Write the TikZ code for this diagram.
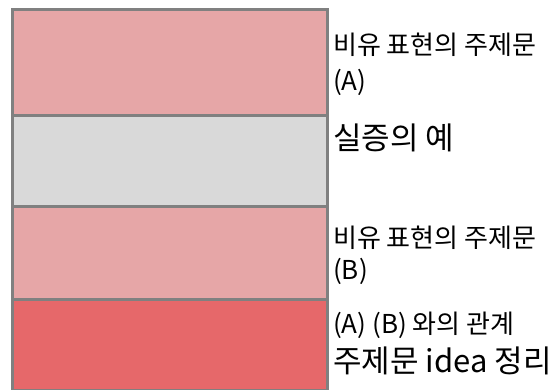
\documentclass[tikz,border=0pt]{standalone}
\usepackage{fontspec}
\setmainfont{Noto Sans CJK KR}
\definecolor{pinkfill}{HTML}{E6A6A7}
\definecolor{grayfill}{HTML}{D9D9D9}
\definecolor{redfill}{HTML}{E6686A}
\definecolor{edge}{HTML}{808080}
\tikzset{
  band/.style={draw=edge, line width=3pt},
  small/.style={anchor=west, inner sep=0pt, font=\fontsize{26}{30}\selectfont},
  big/.style={anchor=west, inner sep=0pt, font=\fontsize{31}{36}\selectfont},
}
\begin{document}
\begin{tikzpicture}[x=1pt,y=-1pt]
\useasboundingbox (0,0) rectangle (559,390);
\fill[pinkfill] (12.5,9.5) rectangle (327.5,115.5);
\fill[grayfill] (12.5,115.5) rectangle (327.5,206.5);
\fill[pinkfill] (12.5,206.5) rectangle (327.5,299);
\fill[redfill] (12.5,299) rectangle (327.5,390.5);
\draw[band] (12.5,9.5) rectangle (327.5,115.5);
\draw[band] (12.5,115.5) rectangle (327.5,206.5);
\draw[band] (12.5,206.5) rectangle (327.5,299);
\draw[band] (12.5,299) rectangle (327.5,390.5);
\node[small] (t1) at (333,45) {비유 표현의 주제문};
\node[small] (t2) at (333,82) {(A)};
\node[big] (t3) at (333,138) {실증의 예};
\node[small] (t4) at (333,238) {비유 표현의 주제문};
\node[small] (t5) at (333,271) {(B)};
\node[small] (t6) at (333,325) {(A) (B) 와의 관계};
\node[big] (t7) at (333,361) {주제문 idea 정리};
\end{tikzpicture}
\end{document}
